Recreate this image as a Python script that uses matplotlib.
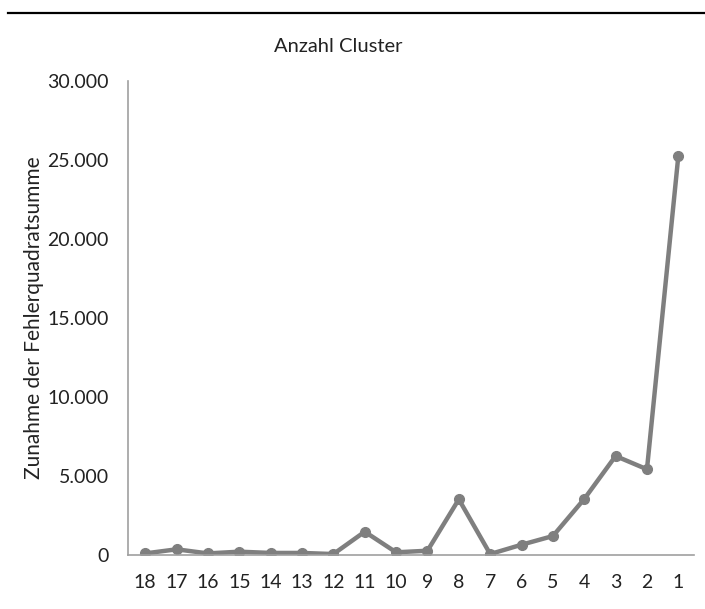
import matplotlib
matplotlib.use("Agg")
import matplotlib.pyplot as plt
from matplotlib.ticker import FuncFormatter, FixedLocator
from matplotlib.lines import Line2D

clusters = ["18", "17", "16", "15", "14", "13", "12", "11", "10", "9", "8", "7", "6", "5", "4", "3", "2", "1"]
values = [100, 360, 100, 210, 130, 130, 60, 1475, 170, 270, 3525, 60, 650, 1200, 3545, 6265, 5425, 25250]
yticks = [0, 5000, 10000, 15000, 20000, 25000, 30000]

plt.rcParams['font.family'] = ['Lato', 'DejaVu Sans']

fig = plt.figure(figsize=(7.05, 6.09), dpi=100)
ax = fig.add_axes([128/705, 1-555/609, (694-128)/705, (555-81)/609])

x = list(range(len(clusters)))
ax.plot(x, values, color='#7f7f7f', linewidth=3.2, marker='o', markersize=7,
        markerfacecolor='#7f7f7f', markeredgecolor='#7f7f7f', solid_joinstyle='round')

ax.set_xlim(-0.55, len(clusters) - 0.5)
ax.set_ylim(0, 30000)
ax.yaxis.set_major_locator(FixedLocator(yticks))
ax.yaxis.set_major_formatter(FuncFormatter(lambda v, p: f"{int(v):,}".replace(",", ".")))
ax.set_xticks(x)
ax.set_xticklabels(clusters)
ax.tick_params(axis='both', length=0, labelsize=14, colors='#222222')
ax.tick_params(axis='x', pad=14)
ax.tick_params(axis='y', pad=14)

for s in ['top', 'right']:
    ax.spines[s].set_visible(False)
for s in ['left', 'bottom']:
    ax.spines[s].set_color('#a0a0a0')
    ax.spines[s].set_linewidth(1.2)

ax.set_ylabel("Zunahme der Fehlerquadratsumme", fontsize=15, color='#222222', labelpad=2)
fig.text(338/705, 1-47/609, "Anzahl Cluster", ha='center', va='center', fontsize=14.5, color='#222222')
fig.add_artist(Line2D([8/705, 1.0], [1-13/609, 1-13/609], color='black', linewidth=1.6, transform=fig.transFigure))

fig.savefig("out.png", dpi=100)
